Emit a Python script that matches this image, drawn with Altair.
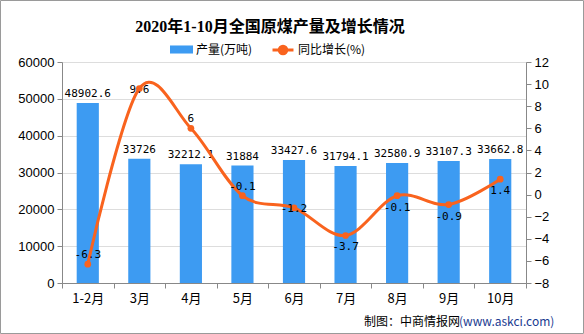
import altair as alt
import pandas as pd

months = ["1-2月", "3月", "4月", "5月", "6月", "7月", "8月", "9月", "10月"]
production = [48902.6, 33726, 32212.1, 31884, 33427.6, 31794.1, 32580.9, 33107.3, 33662.8]
growth = [-6.3, 9.6, 6, -0.1, -1.2, -3.7, -0.1, -0.9, 1.4]
growth_label_side = ["above", "center", "above", "above", "center", "below", "below", "below", "below"]
left_ticks = [0, 10000, 20000, 30000, 40000, 50000, 60000]
right_ticks = [-8, -6, -4, -2, 0, 2, 4, 6, 8, 10, 12]
title_text = "2020年1-10月全国原煤产量及增长情况"
bar_series = "产量(万吨)"
line_series = "同比增长(%)"
footer_main = "制图：中商情报网"
footer_url = "(www.askci.com)"

BLUE = "#3D9BF2"
ORANGE = "#F9631E"
AXIS_GRAY = "#868686"
CJK = "Noto Sans CJK SC"
MONO = "DejaVu Sans Mono"

df = pd.DataFrame({
    "month": months,
    "production": production,
    "growth": growth,
    "side": growth_label_side,
    "plabel": [f"{v:g}" for v in production],
    "glabel": [f"{v:g}" for v in growth],
    "bs": bar_series,
    "ls": line_series,
})

x_enc = alt.X(
    "month:N", sort=months,
    scale=alt.Scale(paddingInner=0, paddingOuter=0),
    axis=alt.Axis(title=None, labelAngle=0, tickBand="extent", tickSize=5,
                  labelPadding=4, labelFont=CJK, labelFontSize=13),
)

y_left = alt.Y(
    "production:Q",
    scale=alt.Scale(domain=[0, 60000], nice=False),
    axis=alt.Axis(title=None, values=left_ticks, format="d", tickSize=5, labelPadding=3,
                  labelFont="Liberation Sans", labelFontSize=13),
)

y_right = alt.Y(
    "growth:Q",
    scale=alt.Scale(domain=[-8, 12], nice=False),
    axis=alt.Axis(title=None, orient="right", values=right_ticks, format="d", tickSize=5,
                  labelPadding=3, labelFont="Liberation Sans", labelFontSize=13),
)

base = alt.Chart(df)

bars = base.mark_bar(width={"band": 0.43}).encode(
    x=x_enc,
    y=y_left,
    fill=alt.Fill(
        "bs:N",
        scale=alt.Scale(domain=[bar_series], range=[BLUE]),
        legend=alt.Legend(
            title=None, orient="none", legendX=108, legendY=-24,
            symbolType="M-1,-0.35H1V0.35H-1Z", symbolSize=529,
            symbolStrokeWidth=0, labelFont=CJK, labelFontSize=12,
            labelColor="#000", labelOffset=3,
        ),
    ),
)

bar_text = base.mark_text(font=MONO, fontSize=11, dy=-9, color="#000").encode(
    x=alt.X("month:N", sort=months), y=y_left, text="plabel:N"
)

left = alt.layer(bars, bar_text)

line = base.mark_line(interpolate="cardinal", strokeWidth=3).encode(
    x=alt.X("month:N", sort=months),
    y=y_right,
    stroke=alt.Stroke(
        "ls:N",
        scale=alt.Scale(domain=[line_series], range=[ORANGE]),
        legend=alt.Legend(
            title=None, orient="none", legendX=209, legendY=-24,
            symbolType="M-1,0L1,0M0.36,0A0.36,0.36,0,1,1,-0.36,0A0.36,0.36,0,1,1,0.36,0",
            symbolSize=440, symbolStrokeWidth=3, symbolFillColor=ORANGE,
            labelFont=CJK, labelFontSize=12, labelColor="#000", labelOffset=3,
        ),
    ),
)

points = base.mark_circle(size=45, opacity=1, color=ORANGE).encode(
    x=alt.X("month:N", sort=months), y=y_right
)

def glabels(side, dy):
    return base.transform_filter(alt.datum.side == side).mark_text(
        font=MONO, fontSize=11, dy=dy, color="#000"
    ).encode(x=alt.X("month:N", sort=months), y=y_right, text="glabel:N")

right = alt.layer(line, points, glabels("above", -9), glabels("center", 1), glabels("below", 12))

footer_df = pd.DataFrame({"a": [footer_main], "b": [footer_url]})
foot_a = alt.Chart(footer_df).mark_text(
    font=CJK, fontSize=12, align="left", baseline="middle", color="#000"
).encode(x=alt.value(302), y=alt.value(260), text="a:N")
foot_b = alt.Chart(footer_df).mark_text(
    font=CJK, fontSize=12, align="left", baseline="middle", color="#203A90"
).encode(x=alt.value(397), y=alt.value(260), text="b:N")

frame = alt.Chart(footer_df).mark_rect(fill=None, stroke="#9a9a9a", strokeWidth=1).encode(
    x=alt.value(-61.5), x2=alt.value(521.5), y=alt.value(-61.5), y2=alt.value(271.5)
)

chart = alt.layer(left, right, foot_a, foot_b, frame).resolve_scale(
    y="independent", fill="independent", stroke="independent"
).properties(
    width=464, height=221,
    padding={"left": 62, "top": 62, "right": 58, "bottom": 51},
    autosize=alt.AutoSizeParams(type="none"),
    title=alt.Title(title_text, font="Liberation Serif, Noto Sans CJK SC", fontSize=16,
                    fontWeight="bold", anchor="middle", dx=-24, offset=-35, color="#000"),
).configure_axis(
    grid=False, domainColor=AXIS_GRAY, tickColor=AXIS_GRAY, labelColor="#000"
).configure_view(stroke=None).configure(background="white")

chart.save("out.html", embed_options={"renderer": "svg", "actions": False})
